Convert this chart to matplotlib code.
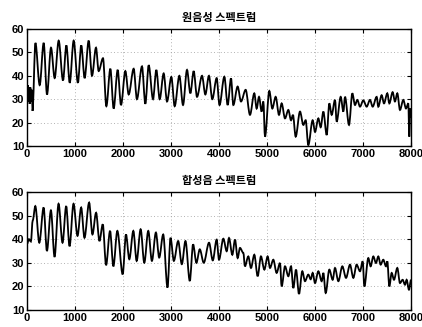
import matplotlib
matplotlib.use("Agg")
import matplotlib.pyplot as plt
from matplotlib.path import Path
from matplotlib.patches import PathPatch

plt.rcParams['font.family'] = ['Liberation Sans', 'Noto Sans CJK KR', 'DejaVu Sans']

titles = ["원음성 스펙트럼", "합성음 스펙트럼"]
xticks = [0, 1000, 2000, 3000, 4000, 5000, 6000, 7000, 8000]
yticks = [10, 20, 30, 40, 50, 60]

# original speech spectrum: (frequency Hz, level) extrema
orig_f = [0, 15, 25, 40, 55, 70, 85, 100, 115, 175, 264, 347, 417, 500, 576, 660, 750, 820, 890,
          972, 1060, 1130, 1200, 1285, 1354, 1437, 1493, 1583, 1653, 1736, 1805, 1889, 1958,
          2049, 2118, 2222, 2290, 2395, 2465, 2535, 2625, 2694, 2764, 2847, 2917, 3007, 3076,
          3174, 3250, 3333, 3403, 3472, 3542, 3646, 3715, 3790, 3860, 3951, 4010, 4111, 4180,
          4250, 4298, 4388, 4458, 4555, 4645, 4735, 4784, 4833, 4888, 4923, 4958, 5048, 5110,
          5180, 5250, 5305, 5375, 5444, 5500, 5540, 5597, 5687, 5757, 5805, 5860, 5951, 6000,
          6069, 6118, 6173, 6243, 6298, 6347, 6416, 6451, 6535, 6590, 6625, 6708, 6777, 6833,
          6881, 6937, 7006, 7076, 7145, 7201, 7284, 7318, 7388, 7437, 7506, 7548, 7617, 7665,
          7714, 7770, 7839, 7895, 7943, 7964, 7985, 8000]
orig_v = [33, 36, 29, 35, 28, 35, 29, 34, 25, 54, 36, 54, 32, 52, 39, 55, 38, 53, 37,
          55, 37, 53, 39, 55, 40, 52, 42, 47.5, 27, 43, 26, 42.5, 27.5,
          42, 32, 43, 30, 44, 28, 44.5, 30, 42.5, 30, 41, 29, 39.5, 27,
          40, 27.5, 42.5, 32.5, 42, 31, 40, 32, 40, 30, 39, 27.5, 39.6, 27.5,
          38.9, 27.5, 35.4, 29, 34, 23.3, 32.5, 26, 31, 24.7, 29, 14, 33.5, 26,
          31, 23.3, 28.2, 21.8, 25.4, 21, 23.3, 14, 24.7, 19, 21, 10.4, 21, 16,
          21.8, 18, 24.7, 14.7, 28.2, 23.3, 29.7, 20.4, 31, 24.7, 31, 19, 32.5, 27.5,
          29.7, 26.8, 29.5, 26.8, 29.7, 26.8, 31, 26.8, 31.7, 28.2, 32.5, 28.2, 33, 29,
          32.5, 25.4, 29.7, 26, 28.2, 14, 26, 22]

# synthesized speech spectrum
syn_f = [0, 40, 80, 120, 173, 256, 346, 415, 498, 574, 657, 740, 816, 886, 969, 1052, 1128,
         1197, 1294, 1363, 1439, 1509, 1578, 1647, 1730, 1799, 1882, 1993, 2062, 2131, 2215,
         2284, 2367, 2443, 2526, 2602, 2685, 2754, 2837, 2927, 2990, 3059, 3149, 3225, 3301,
         3391, 3460, 3529, 3599, 3682, 3792, 3870, 3951, 4000, 4090, 4160, 4208, 4277, 4333,
         4388, 4437, 4506, 4540, 4610, 4666, 4735, 4805, 4874, 4944, 5013, 5062, 5131, 5200,
         5270, 5305, 5375, 5444, 5500, 5548, 5604, 5666, 5735, 5791, 5860, 5910, 5951, 6000,
         6069, 6139, 6173, 6222, 6298, 6368, 6416, 6486, 6569, 6646, 6729, 6798, 6867, 6937,
         6993, 7028, 7110, 7159, 7214, 7270, 7318, 7367, 7422, 7478, 7506, 7548, 7597, 7645,
         7714, 7770, 7825, 7874, 7908, 7957, 8000]
syn_v = [38, 40, 39, 48, 54, 38.5, 53.4, 35, 52.2, 32.5, 55, 38.5, 54, 37, 55, 41.4, 53.4,
         40.6, 55.5, 42, 51.2, 39.2, 46.3, 29, 43.5, 28.5, 43.5, 25.1, 42, 31.5, 43.5,
         30.8, 44.2, 30, 43.5, 30.8, 42.8, 32.2, 42, 19.5, 40.6, 30.8, 39.2, 29.4, 39.2,
         22.3, 37.8, 30, 35.7, 30, 38.5, 31, 39.8, 31.3, 40.2, 34.9, 40.5, 33.4, 39.8,
         32, 36.3, 34.2, 28.5, 32.7, 27.8, 33.4, 24.3, 32.7, 27.1, 32.7, 27.8, 31.3, 25.7,
         29.9, 20, 28.5, 24.3, 28.5, 19.3, 27.1, 16.8, 26.4, 22.2, 25, 23, 25.7, 21.4,
         26.4, 22.2, 25.7, 17.2, 27.1, 22.8, 27.8, 22.2, 28.5, 23.6, 29.2, 23.6, 29.2, 26.4,
         30.6, 20, 32, 28.5, 32.7, 29.9, 32.7, 29.2, 31.3, 28.5, 30.6, 20, 25.7, 22.8,
         27.8, 21.4, 22.8, 20.7, 22.8, 18.6, 22.8]


def smooth_path(xs, ys):
    # Bezier curve through the extrema with flat tangents at each extremum
    verts = [(xs[0], ys[0])]
    codes = [Path.MOVETO]
    for i in range(1, len(xs)):
        x0, y0, x1, y1 = xs[i - 1], ys[i - 1], xs[i], ys[i]
        dx = (x1 - x0) / 3.0
        verts += [(x0 + dx, y0), (x1 - dx, y1), (x1, y1)]
        codes += [Path.CURVE4] * 3
    return Path(verts, codes)


fig = plt.figure(figsize=(4.22, 3.27), dpi=100)
ax1 = fig.add_axes([0.064, 0.5535, 0.910, 0.358])
ax2 = fig.add_axes([0.064, 0.052, 0.910, 0.361])

for ax, f, v, t in [(ax1, orig_f, orig_v, titles[0]), (ax2, syn_f, syn_v, titles[1])]:
    ax.add_patch(PathPatch(smooth_path(f, v), facecolor='none', edgecolor='black',
                           linewidth=1.3, zorder=3, clip_on=True))
    ax.set_xlim(0, 8000)
    ax.set_ylim(10, 60)
    ax.set_xticks(xticks)
    ax.set_yticks(yticks)
    ax.grid(True, linestyle=(0, (1, 3)), color='#999999', linewidth=0.6)
    ax.tick_params(direction='in', length=3, width=0.8, top=True, right=True,
                   labelsize=8, pad=2)
    for lab in ax.get_xticklabels() + ax.get_yticklabels():
        lab.set_fontweight('bold')
    for s in ax.spines.values():
        s.set_linewidth(1.0)
    ax.set_title(t, fontsize=8, fontweight='bold', pad=6,
                 family=['Noto Sans CJK KR', 'DejaVu Sans'])

fig.savefig('out.png', dpi=100)
